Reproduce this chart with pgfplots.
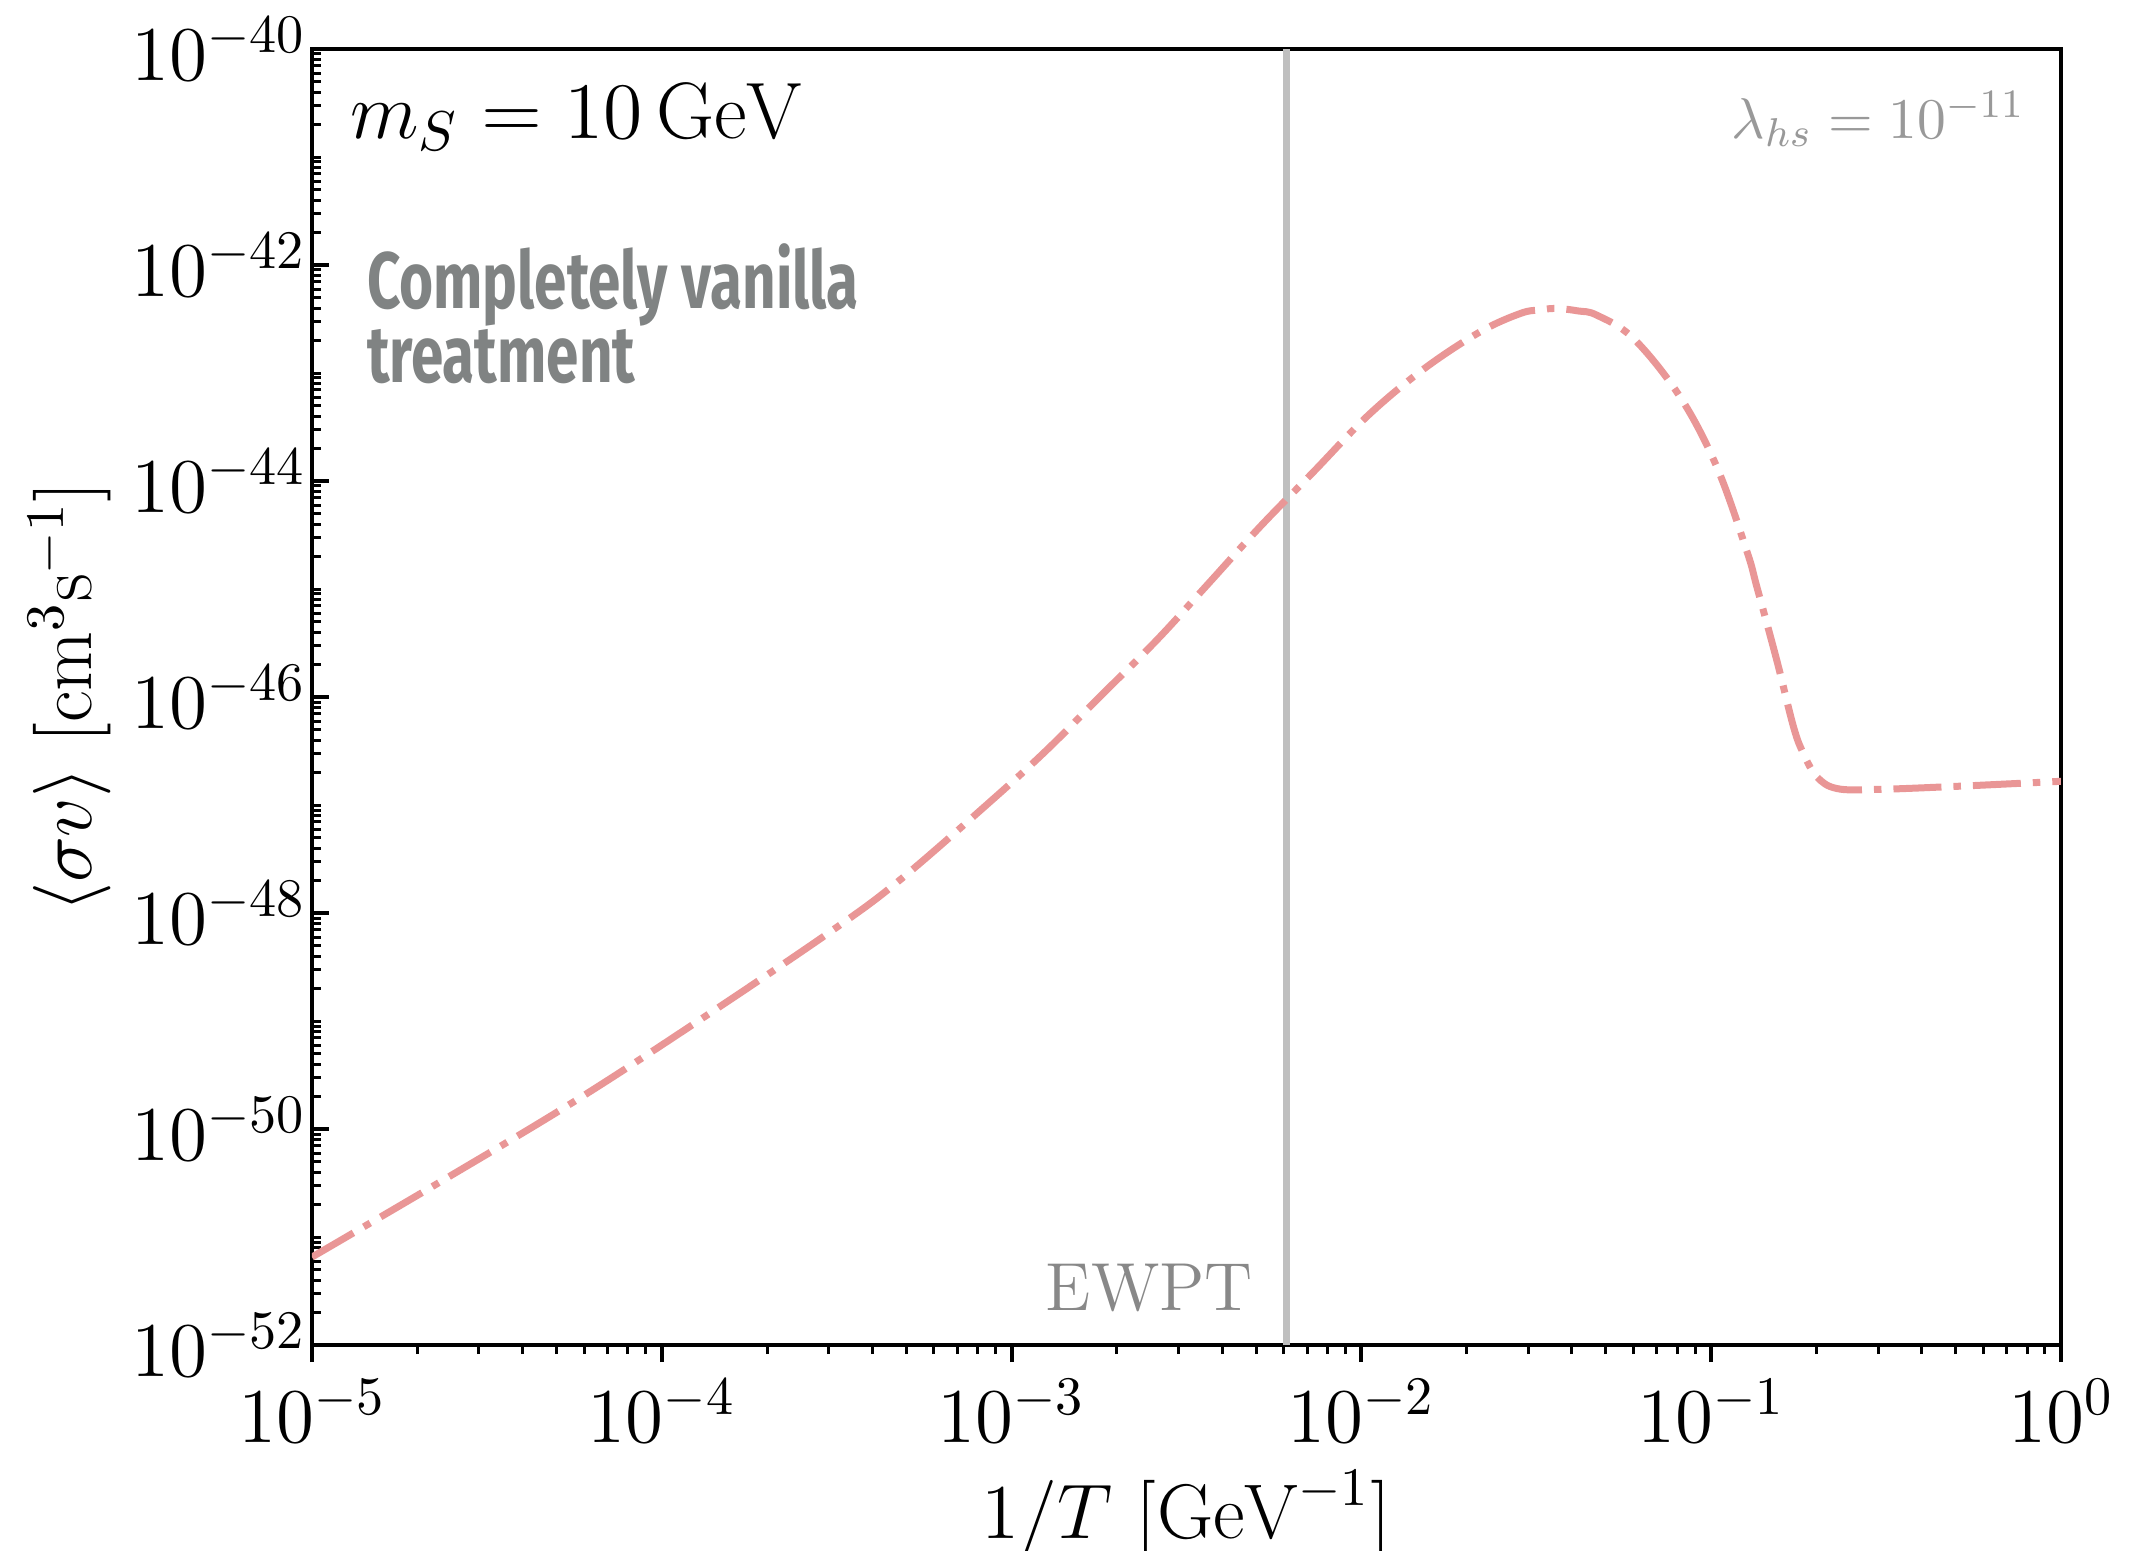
\RequirePackage{fix-cm}
\documentclass[border=0pt]{standalone}
\usepackage{fontspec}
\usepackage{pgfplots}
\pgfplotsset{compat=1.18}
\newfontfamily\handfont[FakeStretch=0.73]{Fira Sans}
\definecolor{curvecol}{RGB}{233,150,150}
\definecolor{ewline}{RGB}{191,191,191}
\definecolor{ewtext}{RGB}{136,136,136}
\definecolor{lamtext}{RGB}{153,153,153}
\definecolor{handgray}{RGB}{128,131,131}
\def\myyminor{1e-51}
\foreach \e in {-49,-47,-45,-43,-41}{\xdef\myyminor{\myyminor,1e\e}}
\foreach \e in {-52,...,-41}{\foreach \m in {2,...,9}{\xdef\myyminor{\myyminor,\m e\e}}}
\def\myxminor{2e-5}
\foreach \e in {-5,...,-1}{\foreach \m in {2,...,9}{\xdef\myxminor{\myxminor,\m e\e}}}
\begin{document}
\begin{tikzpicture}
\begin{axis}[
  name=ax,
  scale only axis,
  width=349.8pt, height=259.2pt,
  xmode=log, ymode=log,
  xmin=1e-5, xmax=1, ymin=1e-52, ymax=1e-40,
  xtick={1e-5,1e-4,1e-3,1e-2,1e-1,1},
  ytick={1e-52,1e-50,1e-48,1e-46,1e-44,1e-42,1e-40},
  minor xtick/.expanded={\myxminor},
  minor ytick/.expanded={\myyminor},
  xtick pos=bottom, ytick pos=left,
  xtick align=outside, ytick align=inside,
  major tick length=3.4pt, minor tick length=1.8pt,
  axis line style={line width=0.8pt},
  every tick/.style={black, line width=0.8pt},
  every minor tick/.style={black, line width=0.6pt},
  tick label style={font=\fontsize{15.5}{18}\selectfont},
  yticklabel style={inner sep=1pt},
  xlabel={$1/T\ [\mathrm{GeV}^{-1}]$},
  ylabel={$\langle\sigma v\rangle\ [\mathrm{cm}^3\mathrm{s}^{-1}]$},
  every axis x label/.style={at={(axis description cs:0.5,-0.1493)}, anchor=base, font=\fontsize{15.5}{18}\selectfont},
  every axis y label/.style={at={(axis description cs:-0.1260,0.5)}, anchor=base, rotate=90, font=\fontsize{15.5}{18}\selectfont},
  clip=true,
]
\addplot[ewline, line width=1.4pt] coordinates {(0.0061,1e-52) (0.0061,1e-40)};
\addplot[curvecol, line width=1.4pt, dash pattern=on 9.6pt off 2.4pt on 1.5pt off 2.4pt, smooth, tension=0.6] coordinates {
(1e-5,6.531e-52)
(2.360e-5,3.334e-51)
(5.702e-5,1.854e-50)
(1.337e-4,1.117e-49)
(3.090e-4,6.998e-49)
(4.786e-4,2.014e-48)
(8.670e-4,1.069e-47)
(1.259e-3,3.221e-47)
(1.807e-3,1.042e-46)
(2.600e-3,3.365e-46)
(3.606e-3,1.072e-45)
(5.129e-3,3.767e-45)
(7.295e-3,1.216e-44)
(1.047e-2,4.074e-44)
(1.510e-2,1.094e-43)
(2.183e-2,2.404e-43)
(2.844e-2,3.556e-43)
(3.236e-2,3.846e-43)
(3.622e-2,3.963e-43)
(4.169e-2,3.758e-43)
(4.710e-2,3.436e-43)
(5.998e-2,2.089e-43)
(8.147e-2,6.026e-44)
(1.038e-1,1.349e-44)
(1.265e-1,2.239e-45)
(1.351e-1,1.047e-45)
(1.540e-1,2.193e-46)
(1.720e-1,5.284e-47)
(1.836e-1,2.999e-47)
(2.006e-1,1.824e-47)
(2.288e-1,1.422e-47)
(2.979e-1,1.396e-47)
(5.153e-1,1.496e-47)
(1,1.660e-47)
};
\node[anchor=base west, inner sep=0, font=\fontsize{16}{19}\selectfont] at (rel axis cs:0.0214,0.9313) {$m_S = 10\,\mathrm{GeV}$};
\node[anchor=base east, inner sep=0, text=lamtext, font=\fontsize{11.5}{14}\selectfont] at (rel axis cs:0.9800,0.9313) {$\lambda_{hs} = 10^{-11}$};
\node[anchor=base west, inner sep=0, text=handgray, font=\handfont\bfseries\fontsize{16}{14}\selectfont] at (rel axis cs:0.0309,0.7998) {Completely vanilla};
\node[anchor=base west, inner sep=0, text=handgray, font=\handfont\bfseries\fontsize{16}{14}\selectfont] at (rel axis cs:0.0309,0.7430) {treatment};
\node[anchor=base east, inner sep=0, text=ewtext, font=\fontsize{13.6}{16}\selectfont, xshift=-6.5pt, yshift=6.9pt] at (axis cs:0.0061,1e-52) {EWPT};
\end{axis}
\pgfresetboundingbox
\path[use as bounding box] ([xshift=-62.4pt,yshift=-41.2pt]ax.south west) rectangle ([xshift=13.8pt,yshift=9.8pt]ax.north east);
\end{tikzpicture}
\end{document}
